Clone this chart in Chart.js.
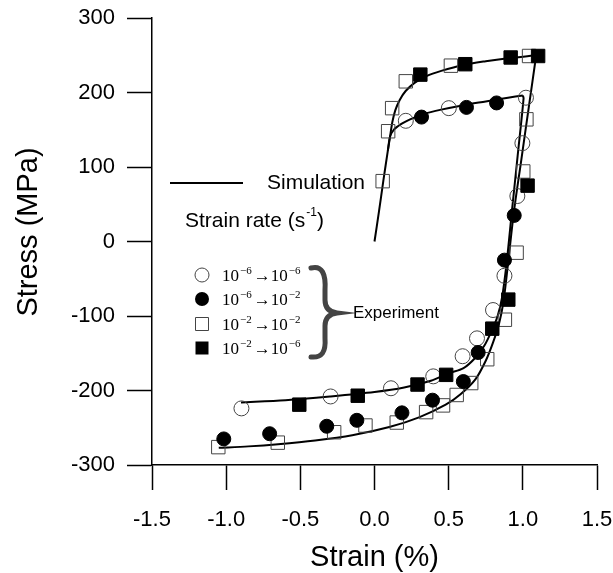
<!DOCTYPE html>
<html>
<head>
<meta charset="utf-8">
<script src="https://cdn.jsdelivr.net/npm/chart.js@4"></script>
<style>
  html, body { margin: 0; padding: 0; background: #fff; }
  #wrap { width: 613px; height: 573px; }
</style>
</head>
<body>
<div id="wrap"><canvas id="stressChart" width="613" height="573"></canvas></div>
<script>
// experiment, 10^-6 -> 10^-6 (open circles)
const openCircleX = [0.211, 0.501, 1.021, 0.997, 0.963, 0.876, 0.799, 0.691, 0.594, 0.396, 0.111, -0.296, -0.897];
const openCircleY = [162, 179, 193, 132, 61, -46, -92, -130, -154, -181, -197, -208, -224];
// experiment, 10^-6 -> 10^-2 (filled circles)
const filledCircleX = [0.317, 0.620, 0.823, 0.942, 0.876, 0.699, 0.599, 0.391, 0.185, -0.119, -0.322, -0.707, -1.016];
const filledCircleY = [167, 180, 186, 35, -25, -149, -188, -213, -230, -240, -248, -258, -265];
// experiment, 10^-2 -> 10^-2 (open squares)
const openSquareX = [0.055, 0.092, 0.119, 0.211, 0.515, 1.042, 1.024, 1.003, 0.958, 0.879, 0.760, 0.652, 0.554, 0.462, 0.348, 0.150, -0.061, -0.272, -0.652, -1.053];
const openSquareY = [81, 148, 179, 215, 236, 249, 164, 94, -15, -105, -158, -190, -206, -220, -229, -243, -247, -256, -270, -276];
// experiment, 10^-2 -> 10^-6 (filled squares)
const filledSquareX = [0.309, 0.612, 0.918, 1.103, 1.032, 0.902, 0.794, 0.483, 0.290, -0.113, -0.507];
const filledSquareY = [224, 238, 247, 249, 75, -78, -117, -179, -192, -207, -219];

// simulation curves
const simHighLoadX = [0.0, 0.03, 0.06, 0.09, 0.105, 0.12, 0.14, 0.17, 0.21, 0.27, 0.35, 0.45, 0.6, 0.75, 0.9, 1.09];
const simHighLoadY = [0, 40, 82, 122, 141, 160, 176, 190, 202, 213, 222, 229, 237, 242, 246, 250];
const simLowLoadX = [0.09, 0.105, 0.13, 0.16, 0.19, 0.24, 0.33, 0.45, 0.6, 0.75, 0.9, 1.0];
const simLowLoadY = [122, 141, 150, 155, 159, 164, 171, 177, 183, 188, 193, 196];
const simHighUnloadX = [1.09, 1.04, 0.99, 0.94, 0.90, 0.87, 0.84, 0.80, 0.75, 0.68, 0.58, 0.48, 0.30, 0.10, -0.15, -0.40, -0.65, -0.85, -1.05];
const simHighUnloadY = [250, 180, 110, 40, -30, -80, -110, -135, -160, -185, -205, -219, -236, -249, -260, -267, -272, -275, -277];
const simLowUnloadX = [1.0, 1.005, 0.965, 0.925, 0.89, 0.86, 0.83, 0.79, 0.74, 0.68, 0.6, 0.5, 0.38, 0.2, 0.0, -0.3, -0.6, -0.9];
const simLowUnloadY = [196, 192, 115, 38, -30, -75, -100, -120, -140, -156, -170, -177, -187, -196, -202, -208, -213, -216];

// axis ticks
const strainTicks = [-1.5, -1.0, -0.5, 0.0, 0.5, 1.0, 1.5];
const stressTicks = [-300, -200, -100, 0, 100, 200, 300];

// legend rows: [exp1, exp2] of 10^exp1 -> 10^exp2
const legendRates = [['\u22126', '\u22126'], ['\u22126', '\u22122'], ['\u22122', '\u22122'], ['\u22122', '\u22126']];

const SANS = "'Liberation Sans', Arial, sans-serif";
const SERIF = "'Liberation Serif', 'Times New Roman', serif";

function pts(xs, ys) {
    return xs.map((x, i) => ({ x: x, y: ys[i] }));
}

function markerSet(xs, ys, style, filled, r) {
    return {
        data: pts(xs, ys),
        showLine: false,
        pointStyle: style,
        pointRadius: r,
        pointBorderWidth: 1,
        pointBorderColor: filled ? '#000' : '#444',
        pointBackgroundColor: filled ? '#000' : 'rgba(0,0,0,0)'
    };
}

function simLine(xs, ys) {
    return {
        data: pts(xs, ys),
        showLine: true,
        borderColor: '#000',
        borderWidth: 2,
        pointRadius: 0,
        tension: 0.3,
        fill: false
    };
}

function drawMarker(ctx, kind, x, y) {
    ctx.beginPath();
    if (kind === 'circle' || kind === 'fcircle') ctx.arc(x, y, 7, 0, Math.PI * 2);
    else ctx.rect(x - 6.5, y - 6.5, 13, 13);
    if (kind === 'fcircle' || kind === 'fsquare') {
        ctx.fillStyle = '#000';
        ctx.fill();
    } else {
        ctx.strokeStyle = '#444';
        ctx.lineWidth = 1;
        ctx.stroke();
    }
}

const legendPlugin = {
    id: 'handLegend',
    afterDraw(c) {
        const ctx = c.ctx;
        ctx.save();
        ctx.fillStyle = '#000';
        ctx.strokeStyle = '#000';

        // y axis title, a bit above the plot centre like the original
        ctx.save();
        ctx.translate(29, 232);
        ctx.rotate(-Math.PI / 2);
        ctx.textAlign = 'center';
        ctx.textBaseline = 'middle';
        ctx.font = '29px ' + SANS;
        ctx.fillText('Stress (MPa)', 0, 0);
        ctx.restore();

        // simulation sample line
        ctx.lineWidth = 2;
        ctx.beginPath();
        ctx.moveTo(170, 183);
        ctx.lineTo(243, 183);
        ctx.stroke();
        ctx.textBaseline = 'middle';
        ctx.textAlign = 'left';
        ctx.font = '21px ' + SANS;
        ctx.fillText('Simulation', 267, 183);

        // strain rate header
        let tx = 185;
        ctx.fillText('Strain rate (s', tx, 221);
        tx += ctx.measureText('Strain rate (s').width + 1;
        ctx.font = '12px ' + SANS;
        ctx.fillText('-1', tx, 213);
        tx += ctx.measureText('-1').width;
        ctx.font = '21px ' + SANS;
        ctx.fillText(')', tx, 221);

        // experiment rows
        const kinds = ['circle', 'fcircle', 'square', 'fsquare'];
        const rowsY = [275, 299, 324, 348];
        rowsY.forEach((ry, i) => {
            drawMarker(ctx, kinds[i], 202, ry);
            let x = 222;
            ctx.fillStyle = '#000';
            ctx.textBaseline = 'alphabetic';
            ctx.font = '17px ' + SERIF;
            ctx.fillText('10', x, ry + 6);
            x += ctx.measureText('10').width + 1;
            ctx.font = '11px ' + SERIF;
            ctx.fillText(legendRates[i][0], x, ry - 1);
            x += ctx.measureText(legendRates[i][0]).width + 2;
            ctx.font = '17px ' + SERIF;
            ctx.fillText('\u2192', x, ry + 6);
            x += ctx.measureText('\u2192').width;
            ctx.fillText('10', x, ry + 6);
            x += ctx.measureText('10').width + 1;
            ctx.font = '11px ' + SERIF;
            ctx.fillText(legendRates[i][1], x, ry - 1);
        });

        // curly brace
        ctx.lineWidth = 5;
        ctx.lineCap = 'round';
        ctx.beginPath();
        ctx.moveTo(311, 268);
        ctx.bezierCurveTo(322, 265, 326, 274, 325, 290);
        ctx.lineTo(325, 300);
        ctx.bezierCurveTo(325, 308, 329, 312, 337, 313);
        ctx.bezierCurveTo(329, 314, 325, 318, 325, 326);
        ctx.lineTo(325, 338);
        ctx.bezierCurveTo(326, 352, 322, 358, 311, 357);
        ctx.stroke();

        ctx.textBaseline = 'middle';
        ctx.font = '17px ' + SANS;
        ctx.fillText('Experiment', 353, 313);
        ctx.restore();
    }
};

const ctx = document.getElementById('stressChart').getContext('2d');
new Chart(ctx, {
    type: 'scatter',
    data: {
        datasets: [
            markerSet(filledSquareX, filledSquareY, 'rect', true, 9.5),
            markerSet(filledCircleX, filledCircleY, 'circle', true, 7),
            markerSet(openSquareX, openSquareY, 'rect', false, 9.5),
            markerSet(openCircleX, openCircleY, 'circle', false, 7.5),
            simLine(simHighLoadX, simHighLoadY),
            simLine(simLowLoadX, simLowLoadY),
            simLine(simHighUnloadX, simHighUnloadY),
            simLine(simLowUnloadX, simLowUnloadY)
        ]
    },
    options: {
        responsive: false,
        animation: false,
        events: [],
        layout: { padding: { top: 18, right: 16, left: 0, bottom: 0 } },
        plugins: {
            legend: { display: false },
            tooltip: { enabled: false }
        },
        scales: {
            x: {
                type: 'linear',
                min: -1.5,
                max: 1.5,
                afterFit: s => {
                    s.height = 108;
                    s.paddingLeft = 0;
                    s.paddingRight = 0;
                },
                afterBuildTicks: s => { s.ticks = strainTicks.map(v => ({ value: v })); },
                ticks: {
                    callback: v => v.toFixed(1),
                    color: '#000',
                    padding: 17,
                    maxRotation: 0,
                    font: { family: SANS, size: 22 }
                },
                grid: { drawOnChartArea: false, tickLength: 25, tickColor: '#000', tickWidth: 1.5 },
                border: { color: '#000', width: 1.5 },
                title: {
                    display: true,
                    text: 'Strain (%)',
                    color: '#000',
                    font: { family: SANS, size: 29, lineHeight: 1 },
                    padding: { top: 0, bottom: 1 }
                }
            },
            y: {
                type: 'linear',
                min: -300,
                max: 300,
                afterFit: s => {
                    s.width = 152;
                    s.paddingTop = 0;
                    s.paddingBottom = 0;
                },
                afterBuildTicks: s => { s.ticks = stressTicks.map(v => ({ value: v })); },
                ticks: {
                    color: '#000',
                    padding: 12,
                    font: { family: SANS, size: 22 }
                },
                grid: { drawOnChartArea: false, tickLength: 25, tickColor: '#000', tickWidth: 1.5 },
                border: { color: '#000', width: 1.5 }
            }
        }
    },
    plugins: [legendPlugin]
});
</script>
</body>
</html>
